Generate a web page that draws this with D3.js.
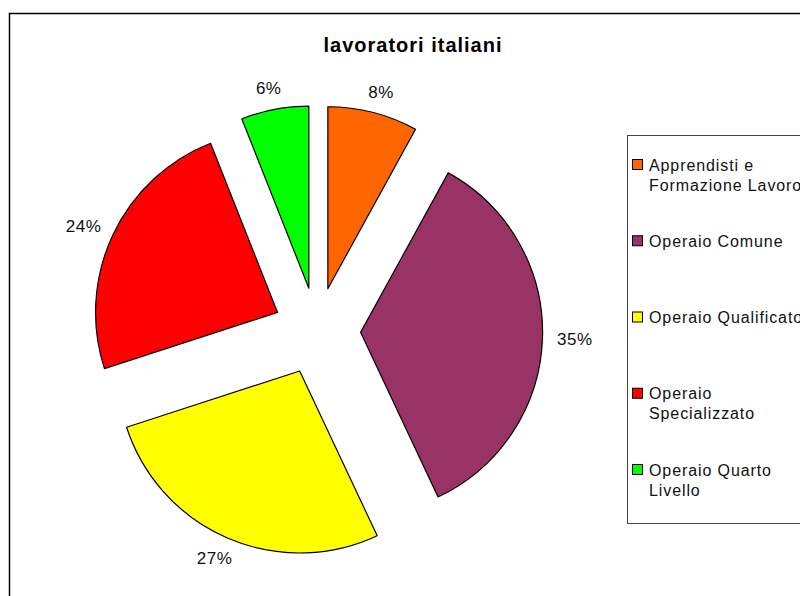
<!DOCTYPE html>
<html>
<head>
<meta charset="utf-8">
<script src="https://cdn.jsdelivr.net/npm/d3@7"></script>
<style>
  body { margin: 0; background: #fff; }
  svg { display: block; }
  text { font-family: "Liberation Sans", Arial, sans-serif; }
</style>
</head>
<body>
<svg id="chart" width="800" height="596"></svg>
<script>
const title = "lavoratori italiani";
const categories = ["Apprendisti e Formazione Lavoro", "Operaio Comune", "Operaio Qualificato", "Operaio Specializzato", "Operaio Quarto Livello"];
const legendLines = [["Apprendisti e", "Formazione Lavoro"], ["Operaio Comune"], ["Operaio Qualificato"], ["Operaio", "Specializzato"], ["Operaio Quarto", "Livello"]];
const values = [8, 35, 27, 24, 6];
const colors = ["#FF6600", "#993366", "#FFFF00", "#FF0000", "#00FF00"];

const svg = d3.select("#chart");
const W = 800, H = 596;

// chart area border
svg.append("rect")
  .attr("x", 9.5).attr("y", 13.5)
  .attr("width", W + 20).attr("height", H + 20)
  .attr("fill", "#fff").attr("stroke", "#000").attr("stroke-width", 1.5);

// title
svg.append("text")
  .attr("x", 413).attr("y", 52)
  .attr("text-anchor", "middle")
  .attr("font-size", 20).attr("font-weight", "bold")
  .attr("letter-spacing", 1.0)
  .text(title);

const cx = 317, cy = 331, r = 182, explode = 43.6, labelR = 240;
const total = d3.sum(values);
const pie = d3.pie().sort(null).value(d => d)(values);
const arc = d3.arc().innerRadius(0).outerRadius(r);
const mid = d => (d.startAngle + d.endAngle) / 2;

const g = svg.append("g").attr("transform", `translate(${cx},${cy})`);

g.selectAll("path.slice").data(pie).join("path")
  .attr("class", "slice")
  .attr("d", arc)
  .attr("transform", d => `translate(${explode * Math.sin(mid(d))},${-explode * Math.cos(mid(d))})`)
  .attr("fill", (d, i) => colors[i])
  .attr("stroke", "#000").attr("stroke-width", 1.2)
  .attr("stroke-linejoin", "round");

const lw = 36, lh = 14;
g.selectAll("text.lbl").data(pie).join("text")
  .attr("class", "lbl")
  .attr("x", d => (labelR + lw / 2) * Math.sin(mid(d)))
  .attr("y", d => -(labelR + lh / 2) * Math.cos(mid(d)))
  .attr("dy", "0.35em")
  .attr("text-anchor", "middle")
  .attr("font-size", 17)
  .attr("letter-spacing", 0.5)
  .attr("fill", "#111")
  .text(d => Math.round(d.data / total * 100) + "%");

// legend
const legend = svg.append("g");
legend.append("rect")
  .attr("x", 627.5).attr("y", 135.5)
  .attr("width", 200).attr("height", 388)
  .attr("fill", "#fff").attr("stroke", "#444").attr("stroke-width", 1);

const ly = d3.scaleLinear().domain([0, categories.length - 1]).range([165, 470]);
const items = legend.selectAll("g.item").data(categories).join("g")
  .attr("class", "item")
  .attr("transform", (d, i) => `translate(0,${ly(i)})`);
items.append("rect")
  .attr("x", 632.5).attr("y", -5.5)
  .attr("width", 10).attr("height", 10)
  .attr("fill", (d, i) => colors[i])
  .attr("stroke", "#000").attr("stroke-width", 1);
items.each(function(d, i) {
  const t = d3.select(this).append("text")
    .attr("x", 649).attr("y", 0)
    .attr("font-size", 16)
    .attr("letter-spacing", 0.9)
    .attr("fill", "#111");
  legendLines[i].forEach((line, k) => {
    t.append("tspan").attr("x", 649).attr("y", k * 20).attr("dy", "0.35em").text(line);
  });
});
</script>
</body>
</html>
